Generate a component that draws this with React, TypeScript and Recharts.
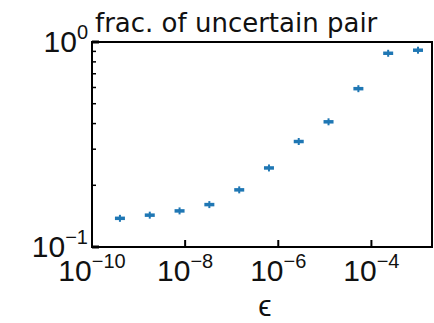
import React from 'react'
import { ScatterChart, Scatter, XAxis, YAxis, ReferenceArea } from 'recharts'

// epsilon values (log spaced) and fraction of uncertain pairs
const epsValues = [3.98e-10, 1.74e-9, 7.59e-9, 3.31e-8, 1.45e-7, 6.31e-7, 2.75e-6, 1.2e-5, 5.25e-5, 2.29e-4, 1e-3]
const fracValues = [0.138, 0.143, 0.15, 0.161, 0.19, 0.243, 0.327, 0.408, 0.592, 0.881, 0.912]

const xTicks = [1e-10, 1e-8, 1e-6, 1e-4]
const xTickExps = ['−10', '−8', '−6', '−4']
const yTicks = [0.1, 0.2, 0.3, 0.4, 0.5, 0.6, 0.7, 0.8, 0.9, 1]
const yTickLabels: Record<string, string> = { '0.1': '−1', '1': '0' }

const data = epsValues.map((eps, i) => ({ eps, frac: fracValues[i] }))

const BLUE = '#1f77b4'
const FONT = 'Liberation Sans'
const LEFT = 92
const BOTTOM = 247

const XTick = (props: any) => {
  const { x, payload } = props
  const i = xTicks.indexOf(payload.value)
  return (
    <g>
      {i > 0 && <line x1={x} x2={x} y1={BOTTOM} y2={BOTTOM - 7} stroke="#000" strokeWidth={2} />}
      <text x={x} y={281} textAnchor="middle" fontFamily={FONT} fontSize={30} fill="#111">
        10<tspan dy={-13} fontSize={20}>{xTickExps[i]}</tspan>
      </text>
    </g>
  )
}

const YTick = (props: any) => {
  const { y, payload } = props
  const label = yTickLabels[String(payload.value)]
  const major = label !== undefined
  return (
    <g>
      <line x1={LEFT} x2={LEFT + (major ? 7 : 4)} y1={y} y2={y} stroke="#000" strokeWidth={major ? 3 : 1.5} />
      {major && (
        <text x={88} y={y + 10} textAnchor="end" fontFamily={FONT} fontSize={30} fill="#111">
          10<tspan dy={-13} fontSize={20}>{label}</tspan>
        </text>
      )}
    </g>
  )
}

const ErrMarker = (props: any) => {
  const { cx, cy } = props
  return (
    <g>
      <line x1={cx - 5} x2={cx + 5} y1={cy} y2={cy} stroke={BLUE} strokeWidth={3.5} />
      <line x1={cx} x2={cx} y1={cy - 3.5} y2={cy + 3.5} stroke={BLUE} strokeWidth={2} />
    </g>
  )
}

export default function App() {
  return (
    <div style={{ position: 'absolute', left: 0, top: 0, width: 434, height: 323, background: '#fff' }}>
      <ScatterChart width={434} height={323} margin={{ top: 42, right: 2, bottom: 0, left: 0 }}>
        <XAxis
          dataKey="eps"
          type="number"
          scale="log"
          domain={[1e-10, 2e-3]}
          allowDataOverflow
          ticks={xTicks}
          interval={0}
          height={76}
          axisLine={false}
          tickLine={false}
          tick={<XTick />}
        />
        <YAxis
          dataKey="frac"
          type="number"
          scale="log"
          domain={[0.1, 1]}
          allowDataOverflow
          ticks={yTicks}
          interval={0}
          width={92}
          axisLine={false}
          tickLine={false}
          tick={<YTick />}
        />
        <ReferenceArea x1={1e-10} x2={2e-3} y1={0.1} y2={1} fill="none" stroke="#000" strokeWidth={2} />
        <Scatter data={data} shape={<ErrMarker />} isAnimationActive={false} />
        <text x={95} y={32} fontFamily="DejaVu Sans" fontSize={26} fill="#111">frac. of uncertain pair</text>
        <text x={265} y={316} textAnchor="middle" fontFamily={FONT} fontSize={30} fill="#111">ϵ</text>
      </ScatterChart>
    </div>
  )
}
